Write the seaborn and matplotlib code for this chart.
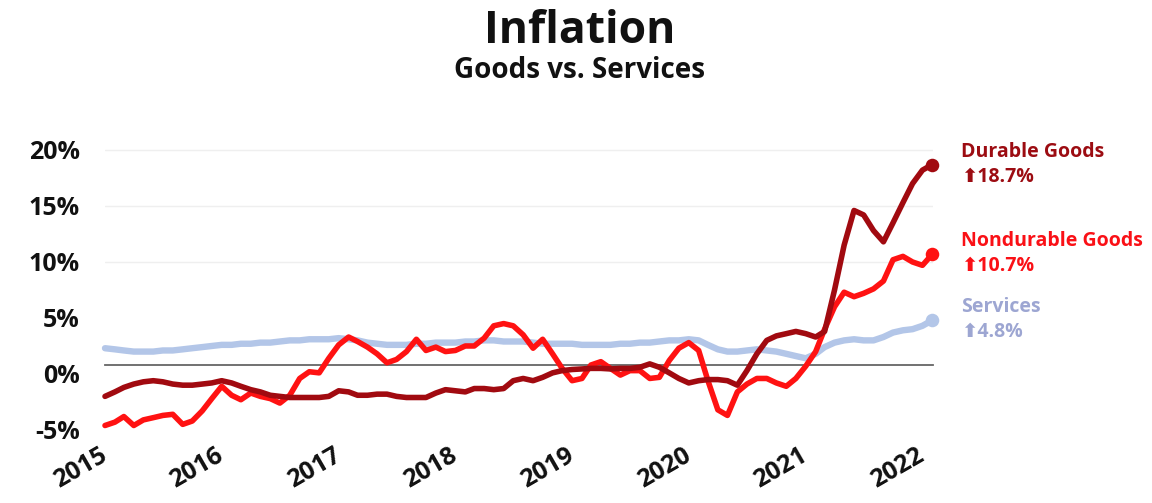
import numpy as np
import pandas as pd
import matplotlib
matplotlib.use("Agg")
import matplotlib.pyplot as plt
import seaborn as sns

# ---- data (year-over-year %, monthly Jan 2015 - Feb 2022) ----
start_month = "2015-01-01"
n_months = 86

durable = [
    -2.0, -1.6, -1.2, -0.9, -0.7, -0.6, -0.7, -0.9, -1.0, -1.0, -0.9, -0.8,
    -0.6, -0.8, -1.1, -1.4, -1.6, -1.9, -2.0, -2.1, -2.1, -2.1, -2.1, -2.0,
    -1.5, -1.6, -1.9, -1.9, -1.8, -1.8, -2.0, -2.1, -2.1, -2.1, -1.7, -1.4,
    -1.5, -1.6, -1.3, -1.3, -1.4, -1.3, -0.6, -0.4, -0.6, -0.3, 0.1, 0.3,
    0.4, 0.45, 0.5, 0.5, 0.45, 0.5, 0.5, 0.6, 0.9, 0.6, 0.1, -0.4,
    -0.8, -0.6, -0.5, -0.5, -0.6, -1.0, 0.3, 1.8, 3.0, 3.4, 3.6, 3.8,
    3.6, 3.3, 3.8, 7.5, 11.5, 14.6, 14.2, 12.8, 11.8, 13.5, 15.3, 17.0,
    18.2, 18.7,
]
nondurable = [
    -4.6, -4.3, -3.8, -4.6, -4.1, -3.9, -3.7, -3.6, -4.5, -4.2, -3.3, -2.2,
    -1.1, -1.9, -2.3, -1.7, -2.0, -2.2, -2.6, -1.9, -0.4, 0.2, 0.1, 1.4,
    2.6, 3.3, 2.9, 2.4, 1.8, 1.0, 1.3, 2.0, 3.1, 2.1, 2.4, 2.0,
    2.1, 2.5, 2.5, 3.2, 4.3, 4.5, 4.3, 3.5, 2.3, 3.1, 1.8, 0.5,
    -0.6, -0.4, 0.8, 1.1, 0.5, -0.1, 0.3, 0.3, -0.4, -0.3, 1.2, 2.3,
    2.8, 2.1, -0.6, -3.2, -3.7, -1.6, -0.9, -0.4, -0.4, -0.8, -1.1, -0.4,
    0.7, 2.0, 4.0, 6.0, 7.3, 6.9, 7.2, 7.6, 8.3, 10.2, 10.5, 10.0,
    9.7, 10.7,
]
services = [
    2.3, 2.2, 2.1, 2.0, 2.0, 2.0, 2.1, 2.1, 2.2, 2.3, 2.4, 2.5,
    2.6, 2.6, 2.7, 2.7, 2.8, 2.8, 2.9, 3.0, 3.0, 3.1, 3.1, 3.1,
    3.2, 3.1, 3.0, 2.8, 2.7, 2.6, 2.6, 2.6, 2.7, 2.7, 2.8, 2.8,
    2.8, 2.9, 2.9, 3.0, 3.0, 2.9, 2.9, 2.9, 2.8, 2.7, 2.7, 2.7,
    2.7, 2.6, 2.6, 2.6, 2.6, 2.7, 2.7, 2.8, 2.8, 2.9, 3.0, 3.0,
    3.1, 3.0, 2.6, 2.2, 2.0, 2.0, 2.1, 2.2, 2.1, 2.0, 1.8, 1.6,
    1.4, 1.8, 2.4, 2.8, 3.0, 3.1, 3.0, 3.0, 3.3, 3.7, 3.9, 4.0,
    4.3, 4.8,
]

series_names = ["Services", "Nondurable Goods", "Durable Goods"]
year_ticks = [2015, 2016, 2017, 2018, 2019, 2020, 2021, 2022]
y_ticks = [-5, 0, 5, 10, 15, 20]
grid_levels = [10, 15, 20]
title = "Inflation"
subtitle = "Goods vs. Services"

# ---- styling ----
colors = {"Durable Goods": "#a10a10", "Nondurable Goods": "#ff1212", "Services": "#b3c6e8"}
text_colors = {"Durable Goods": "#9c0c12", "Nondurable Goods": "#fa1016", "Services": "#9da6d2"}
widths = {"Durable Goods": 4.0, "Nondurable Goods": 4.0, "Services": 4.6}

dates = pd.date_range(start_month, periods=n_months, freq="MS")
df = pd.DataFrame({
    "date": np.tile(dates, 3),
    "value": services + nondurable + durable,
    "series": np.repeat(series_names, n_months),
})

sns.set_theme(style="white")
plt.rcParams["font.family"] = ["Open Sans", "DejaVu Sans"]

W, H = 1152, 503
fig = plt.figure(figsize=(W / 100, H / 100), dpi=100)
ax = fig.add_axes([105 / W, 0.1229, (933 - 105) / W, 0.6012])

for name in series_names:
    sub = df[df["series"] == name]
    sns.lineplot(data=sub, x="date", y="value", ax=ax, color=colors[name],
                 linewidth=widths[name], solid_capstyle="round",
                 solid_joinstyle="round", legend=False, clip_on=False, zorder=3)
    last = sub.iloc[-1]
    ax.scatter([last["date"]], [last["value"]], s=95, color=colors[name],
               zorder=4, clip_on=False, linewidths=0)
    ax.annotate(name, xy=(last["date"], last["value"]), xytext=(29, 13),
                textcoords="offset pixels", ha="left", va="center",
                fontsize=14, fontweight="bold", color=text_colors[name],
                annotation_clip=False)
    ax.annotate(f"\u2b06{last['value']:.1f}%", xy=(last["date"], last["value"]),
                xytext=(29, -12), textcoords="offset pixels", ha="left", va="center",
                fontsize=14, fontweight="bold", color=text_colors[name],
                annotation_clip=False)

for g in grid_levels:
    ax.axhline(g, color="#efefef", lw=1, zorder=1)

ax.set_ylim(-6, 21)
ax.set_xlim(pd.Timestamp("2015-01-01"), pd.Timestamp("2022-02-03"))
ax.set_yticks(y_ticks)
ax.set_yticklabels([f"{v}%" for v in y_ticks])
ax.set_xticks([pd.Timestamp(f"{y}-01-01") for y in year_ticks])
ax.set_xticklabels([str(y) for y in year_ticks])
ax.set_xlabel("")
ax.set_ylabel("")

for s in ["left", "top", "right"]:
    ax.spines[s].set_visible(False)
ax.spines["bottom"].set_position(("data", 0.8))
ax.spines["bottom"].set_color("#666666")
ax.spines["bottom"].set_linewidth(1.3)
ax.spines["bottom"].set_zorder(2)

ax.tick_params(axis="y", length=0, pad=18, labelsize=18, labelcolor="#111111")
ax.tick_params(axis="x", direction="in", length=6, width=1, color="#666666",
               pad=64, labelsize=18, labelcolor="#111111")
for lab in ax.get_yticklabels():
    lab.set_fontweight("bold")
for lab in ax.get_xticklabels():
    lab.set_fontweight("bold")
    lab.set_rotation(30)
    lab.set_ha("right")
    lab.set_va("center")
    lab.set_rotation_mode("anchor")

fig.text(0.503, 0.9145, title, ha="center", va="baseline", fontsize=32,
         fontweight="bold", color="#111111")
fig.text(0.503, 0.845, subtitle, ha="center", va="baseline", fontsize=20,
         fontweight="bold", color="#111111")

fig.savefig("out.png", dpi=100, facecolor="white")
